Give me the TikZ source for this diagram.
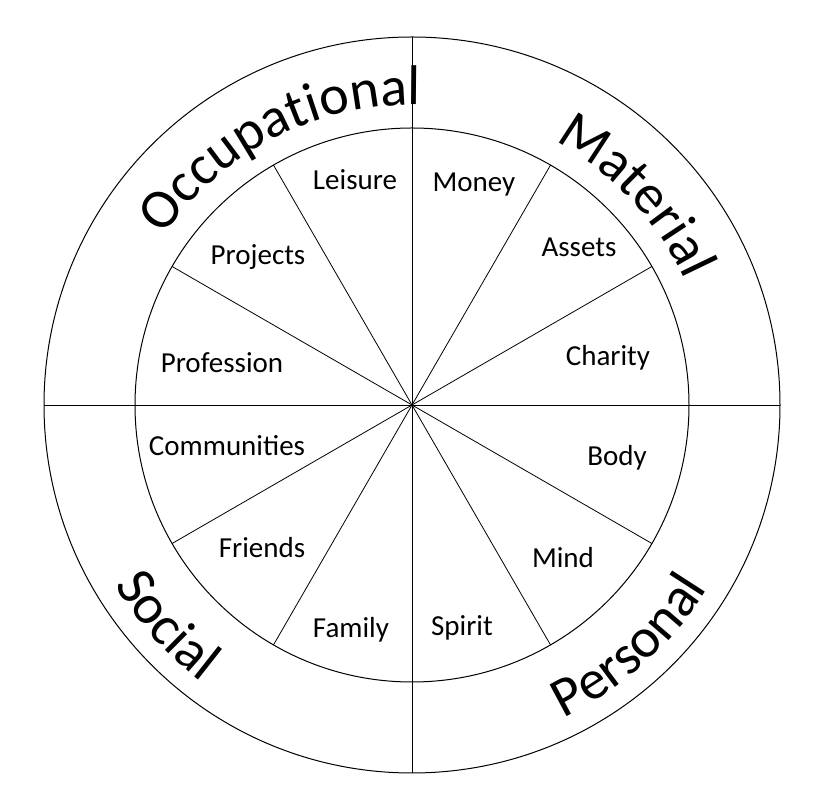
\documentclass[tikz,border=0pt]{standalone}
\usepackage{fontspec}
\setmainfont{Carlito}
\usetikzlibrary{decorations.text,calc}
\tikzset{
  ring/.style={line width=1pt},
  spoke/.style={line width=0.8pt},
  lab/.style={font=\fontsize{29}{29}\selectfont},
  arctext/.style={decorate,decoration={text along path,text align=center,
    text={|\fontsize{56}{56}\selectfont|#1}}}
}
\begin{document}
\begin{tikzpicture}[x=1pt,y=1pt]
\useasboundingbox (0,0) rectangle (823,806);
\coordinate (c) at (412,401);
\draw[ring] (c) circle (368);
\draw[ring] (c) circle (277);
\draw[spoke] (c) -- ++(90:368) (c) -- ++(270:368) (c) -- ++(0:368) (c) -- ++(180:368);
\foreach \a in {30,60,120,150,210,240,300,330} \draw[spoke] (c) -- ++(\a:277);
\path[arctext=Occupational] ($(c)+(175:300)$) arc (175:59:300);
\path[arctext=Material] ($(c)+(70:300)$) arc (70:16:300);
\path[arctext=Social] ($(c)+(190:348)$) arc (190:254:348);
\path[arctext=Personal] ($(c)+(282:348)$) arc (282:342:348);
\node[lab] (l1) at (355,626) {Leisure};
\node[lab] (l2) at (474,621) {Money};
\node[lab] (l3) at (579,559) {Assets};
\node[lab] (l4) at (608,448) {Charity};
\node[lab] (l5) at (617,348) {Body};
\node[lab] (l6) at (563,248) {Mind};
\node[lab] (l7) at (462,178) {Spirit};
\node[lab] (l8) at (351,176) {Family};
\node[lab] (l9) at (262,258) {Friends};
\node[lab] (l10) at (227,360) {Communities};
\node[lab] (l11) at (222,443) {Profession};
\node[lab] (l12) at (258,549) {Projects};
\end{tikzpicture}
\end{document}
